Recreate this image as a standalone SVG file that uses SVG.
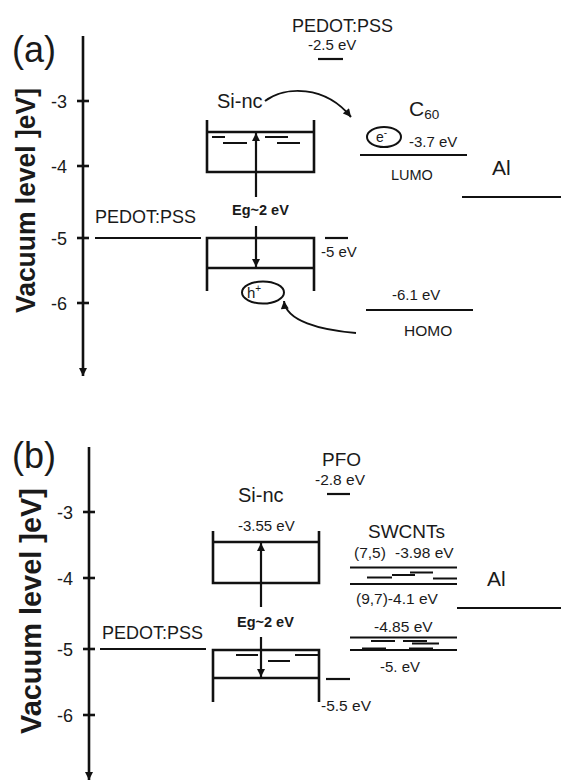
<svg xmlns="http://www.w3.org/2000/svg" width="561" height="781" viewBox="0 0 561 781">
<defs>
<style>
text{font-family:"Liberation Sans",Arial,sans-serif;fill:#1a1a1a}
.lv{stroke:#111;stroke-width:2.2;fill:none}
.bx{stroke:#111;stroke-width:2.6;fill:none}
.ax{stroke:#111;stroke-width:2.6;fill:none}
.dash{stroke:#111;stroke-width:2;fill:none}
.cv{stroke:#111;stroke-width:2;fill:none}
.el{stroke:#111;stroke-width:2;fill:none}
.t15{font-size:15px}
.tick{font-size:18px;text-anchor:end}
.big{font-size:36px}
.lab{font-size:18px}
.eg{font-size:14.5px;font-weight:bold}
.vac{font-size:28px;font-weight:bold}
</style>
<marker id="ah" viewBox="0 0 10 10" refX="10" refY="5" markerWidth="9" markerHeight="8" markerUnits="userSpaceOnUse" orient="auto">
<path d="M0,0 L10,5 L0,10 z" fill="#111"/>
</marker>
</defs>

<!-- ===== Panel (a) ===== -->
<g id="panel-a-axis">
<text class="big" x="12" y="62">(a)</text>
<line class="ax" x1="83" y1="36" x2="83" y2="376" marker-end="url(#ah)"/>
<line class="ax" x1="77" y1="101" x2="89" y2="101"/>
<line class="ax" x1="77" y1="166" x2="89" y2="166"/>
<line class="ax" x1="77" y1="238" x2="89" y2="238"/>
<line class="ax" x1="77" y1="303" x2="89" y2="303"/>
<text class="tick" x="67" y="108">-3</text>
<text class="tick" x="67" y="173">-4</text>
<text class="tick" x="67" y="245">-5</text>
<text class="tick" x="67" y="310">-6</text>
<text class="vac" transform="translate(35,313) rotate(-90)" textLength="225" lengthAdjust="spacingAndGlyphs">Vacuum level ]eV]</text>
</g>

<g id="a-pedot-top">
<text class="lab" x="292" y="32">PEDOT:PSS</text>
<text class="t15" x="308" y="50">-2.5 eV</text>
<line class="lv" x1="318" y1="59" x2="343" y2="59"/>
</g>

<g id="a-pedot-left">
<text class="lab" x="95" y="222.5">PEDOT:PSS</text>
<line class="lv" x1="95" y1="238" x2="201" y2="238"/>
</g>

<g id="a-sinc">
<text x="217" y="108" font-size="20">Si-nc</text>
<polyline class="bx" points="207,120 207,172 314,172 314,120"/>
<line class="bx" x1="207" y1="132" x2="314" y2="132"/>
<line class="dash" x1="212" y1="137" x2="225" y2="137"/>
<line class="dash" x1="223" y1="143" x2="247" y2="143"/>
<line class="dash" x1="265" y1="137" x2="288" y2="137"/>
<line class="dash" x1="277" y1="143" x2="300" y2="143"/>
<text class="eg" x="232" y="214.5">Eg~2 eV</text>
<polyline class="bx" points="207,291 207,238 314,238 314,291"/>
<line class="bx" x1="207" y1="268" x2="314" y2="268"/>
<line class="lv" x1="325" y1="238" x2="348" y2="238"/>
<text class="t15" x="321" y="257">-5 eV</text>
<ellipse class="el" cx="263" cy="292.5" rx="21" ry="11"/>
<text x="247" y="298" font-size="15">h<tspan font-size="10" dy="-6">+</tspan></text>
</g>

<g id="a-c60">
<text x="409" y="116" font-size="21">C<tspan font-size="13.5" dy="3">60</tspan></text>
<ellipse class="el" cx="384" cy="137" rx="17" ry="10"/>
<text x="376" y="142" font-size="14">e<tspan font-size="10" dy="-6">-</tspan></text>
<text class="t15" x="409" y="146.5">-3.7 eV</text>
<line class="lv" x1="360" y1="155" x2="467" y2="155"/>
<text x="391" y="180" font-size="14.5">LUMO</text>
<text class="t15" x="392" y="300">-6.1 eV</text>
<line class="lv" x1="366" y1="310" x2="473" y2="310"/>
<text x="404" y="336" font-size="15.5">HOMO</text>
</g>

<g id="a-al">
<text x="492" y="175" font-size="21">Al</text>
<line class="lv" x1="462" y1="197" x2="561" y2="197"/>
</g>

<!-- ===== Panel (b) ===== -->
<g id="panel-b-axis">
<text class="big" x="12" y="468">(b)</text>
<line class="ax" x1="89" y1="447" x2="89" y2="780" marker-end="url(#ah)"/>
<line class="ax" x1="83" y1="512" x2="95" y2="512"/>
<line class="ax" x1="83" y1="578" x2="95" y2="578"/>
<line class="ax" x1="83" y1="649" x2="95" y2="649"/>
<line class="ax" x1="83" y1="715" x2="95" y2="715"/>
<text class="tick" x="73" y="519">-3</text>
<text class="tick" x="73" y="585">-4</text>
<text class="tick" x="73" y="656">-5</text>
<text class="tick" x="73" y="722">-6</text>
<text class="vac" font-size="30" transform="translate(41,734) rotate(-90)" style="font-size:30px" textLength="246" lengthAdjust="spacingAndGlyphs">Vacuum level ]eV]</text>
</g>

<g id="b-pfo">
<text x="322" y="466" font-size="19">PFO</text>
<text x="315" y="485" font-size="15.5">-2.8 eV</text>
<line class="lv" x1="327" y1="494" x2="350" y2="494"/>
</g>

<g id="b-pedot">
<text class="lab" x="102" y="638.5">PEDOT:PSS</text>
<line class="lv" x1="100" y1="649" x2="206" y2="649"/>
</g>

<g id="b-sinc">
<text x="238" y="502" font-size="20">Si-nc</text>
<text class="t15" x="238" y="531">-3.55 eV</text>
<polyline class="bx" points="213,531 213,583 319,583 319,531"/>
<line class="bx" x1="213" y1="542" x2="319" y2="542"/>
<text class="eg" x="237" y="626.5">Eg~2 eV</text>
<polyline class="bx" points="213,702 213,650 319,650 319,702"/>
<line class="bx" x1="213" y1="678" x2="319" y2="678"/>
<line class="dash" x1="236" y1="655" x2="258" y2="655"/>
<line class="dash" x1="268" y1="661" x2="290" y2="661"/>
<line class="dash" x1="295" y1="655" x2="318" y2="655"/>
<line class="lv" x1="326" y1="679" x2="350" y2="679"/>
<text x="321" y="711" font-size="15.5">-5.5 eV</text>
</g>

<g id="b-swcnt">
<text x="368" y="538" font-size="19">SWCNTs</text>
<text x="354" y="558" font-size="15.5">(7,5)</text>
<text x="395" y="558" font-size="15.5">-3.98 eV</text>
<line class="lv" x1="350" y1="567.5" x2="457" y2="567.5"/>
<line class="dash" x1="410" y1="572.5" x2="433" y2="572.5"/>
<line class="dash" x1="392" y1="575" x2="415" y2="575"/>
<line class="dash" x1="367" y1="577.5" x2="392" y2="577.5"/>
<line class="dash" x1="433" y1="578.5" x2="457" y2="578.5"/>
<line class="lv" x1="350" y1="584" x2="457" y2="584"/>
<text x="356" y="604" font-size="15.5">(9,7)-4.1 eV</text>
<text x="374" y="632" font-size="15.5">-4.85 eV</text>
<line class="lv" x1="350" y1="637.5" x2="457" y2="637.5"/>
<line class="dash" x1="371" y1="641" x2="395" y2="641"/>
<line class="dash" x1="403" y1="641" x2="427" y2="641"/>
<line class="dash" x1="412" y1="643.5" x2="439" y2="643.5" stroke-width="2.6"/>
<line class="dash" x1="362" y1="648.5" x2="386" y2="648.5" stroke-width="2.4"/>
<line class="dash" x1="409" y1="648.5" x2="433" y2="648.5" stroke-width="2.4"/>
<line class="lv" x1="350" y1="650" x2="457" y2="650"/>
<text x="380" y="672" font-size="15">-5. eV</text>
</g>

<g id="b-al">
<text x="487" y="586" font-size="21">Al</text>
<line class="lv" x1="457" y1="608" x2="561" y2="608"/>
</g>

<!-- ===== Connectors ===== -->
<g id="connectors">
<line class="lv" x1="256" y1="197" x2="256" y2="133" marker-end="url(#ah)"/>
<line class="lv" x1="256" y1="226" x2="256" y2="267" marker-end="url(#ah)"/>
<path class="cv" d="M265,101 C285,86 325,85 351,117" marker-end="url(#ah)"/>
<path class="cv" d="M356,333 C320,330 286,321 284,301" marker-end="url(#ah)"/>
<line class="lv" x1="261" y1="607" x2="261" y2="543" marker-end="url(#ah)"/>
<line class="lv" x1="261" y1="637" x2="261" y2="677" marker-end="url(#ah)"/>
</g>
</svg>
